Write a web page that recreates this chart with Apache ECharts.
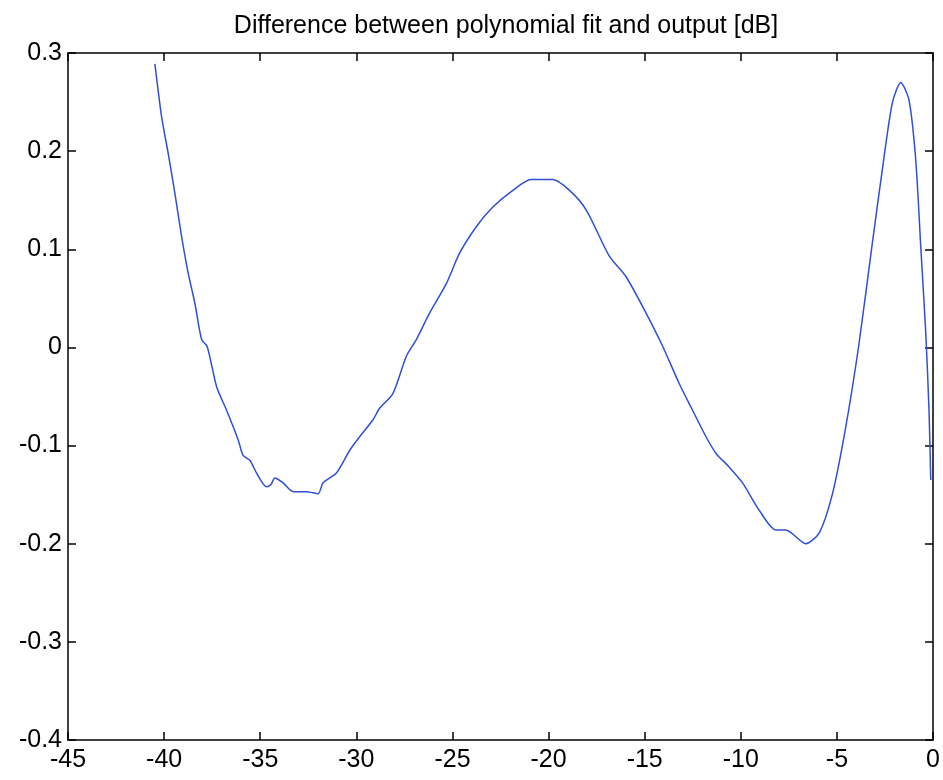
<!DOCTYPE html>
<html>
<head>
<meta charset="utf-8">
<script src="https://cdn.jsdelivr.net/npm/echarts@6/dist/echarts.min.js"></script>
<style>html,body{margin:0;padding:0;background:#fff;}#c{width:943px;height:780px;}</style>
</head>
<body>
<div id="c"></div>
<script>
const titleText = 'Difference between polynomial fit and output [dB]';
const xTicks = [-45, -40, -35, -30, -25, -20, -15, -10, -5, 0];
const yTicks = [-0.4, -0.3, -0.2, -0.1, 0, 0.1, 0.2, 0.3];
const xs = [-40.48, -40.13, -39.79, -39.44, -39.09, -38.75, -38.40, -38.05, -37.76, -37.27, -36.75, -36.15, -35.89, -35.54, -35.19, -34.67, -34.45, -34.24, -33.81, -33.29, -32.60, -31.99, -31.73, -31.04, -30.35, -29.83, -29.14, -28.79, -28.10, -27.40, -26.88, -26.19, -25.32, -24.63, -23.76, -22.90, -21.86, -20.91, -19.78, -18.91, -18.04, -16.84, -15.97, -14.93, -14.06, -13.20, -12.51, -11.81, -11.29, -10.60, -9.91, -9.04, -8.18, -7.66, -6.62, -5.92, -5.23, -4.54, -3.85, -3.16, -2.64, -2.12, -1.68, -1.25, -0.90, -0.64, -0.38, -0.21, -0.12];
const ys = [0.289, 0.235, 0.198, 0.157, 0.113, 0.076, 0.045, 0.008, 0.001, -0.040, -0.064, -0.094, -0.110, -0.115, -0.128, -0.142, -0.140, -0.133, -0.138, -0.147, -0.147, -0.149, -0.138, -0.128, -0.105, -0.091, -0.074, -0.062, -0.047, -0.009, 0.008, 0.035, 0.065, 0.096, 0.123, 0.143, 0.160, 0.171, 0.171, 0.160, 0.140, 0.093, 0.072, 0.035, 0.001, -0.037, -0.064, -0.091, -0.108, -0.122, -0.138, -0.166, -0.186, -0.186, -0.200, -0.189, -0.149, -0.081, 0.004, 0.106, 0.181, 0.249, 0.270, 0.252, 0.191, 0.103, 0.015, -0.064, -0.135];

const data = xs.map((x, i) => [x, ys[i]]);
const fontFam = '"Liberation Sans Narrow", "Liberation Sans", Arial, sans-serif';
const fmtY = v => { const r = Math.round(v * 10) / 10; return r === 0 ? '0' : String(r); };
const axisLine = { show: true, onZero: false, lineStyle: { color: '#000', width: 1.5 } };
const tick = { show: true, inside: true, length: 8, lineStyle: { color: '#000', width: 1.5 } };

const chart = echarts.init(document.getElementById('c'), null, { renderer: 'canvas' });
chart.setOption({
  animation: false,
  backgroundColor: '#fff',
  title: {
    text: titleText, left: 501, textAlign: 'center', top: 9,
    textStyle: { fontFamily: fontFam, fontSize: 25, fontWeight: 'normal', color: '#000' }
  },
  grid: { left: 68, right: 9, top: 53, bottom: 40, containLabel: false },
  xAxis: [
    { type: 'value', position: 'bottom', min: xTicks[0], max: xTicks[xTicks.length - 1], interval: 5,
      axisLine, axisTick: tick, splitLine: { show: false },
      axisLabel: { fontFamily: fontFam, fontSize: 25, color: '#000', margin: 8 } },
    { type: 'value', position: 'top', min: xTicks[0], max: xTicks[xTicks.length - 1], interval: 5,
      axisLine, axisTick: tick, splitLine: { show: false }, axisLabel: { show: false } }
  ],
  yAxis: [
    { type: 'value', position: 'left', min: yTicks[0], max: yTicks[yTicks.length - 1], interval: 0.1,
      axisLine, axisTick: tick, splitLine: { show: false },
      axisLabel: { fontFamily: fontFam, fontSize: 25, color: '#000', margin: 6, formatter: fmtY } },
    { type: 'value', position: 'right', min: yTicks[0], max: yTicks[yTicks.length - 1], interval: 0.1,
      axisLine, axisTick: tick, splitLine: { show: false }, axisLabel: { show: false } }
  ],
  series: [{
    type: 'line', data, showSymbol: false, smooth: 0.25,
    lineStyle: { color: '#2f4fd8', width: 1.5 }, xAxisIndex: 0, yAxisIndex: 0
  }]
});
</script>
</body>
</html>
